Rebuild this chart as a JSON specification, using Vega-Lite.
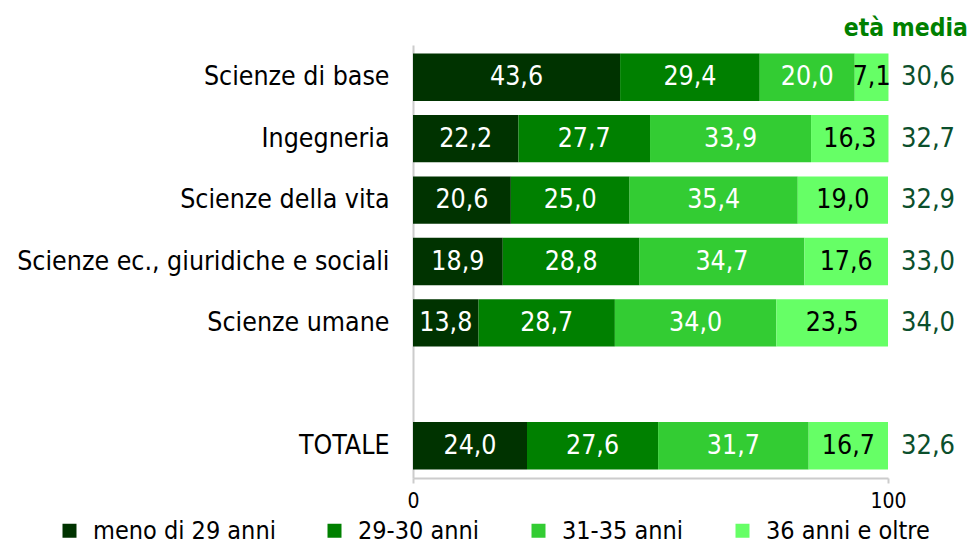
{
  "$schema": "https://vega.github.io/schema/vega-lite/v6.json",
  "width": 475,
  "height": 433,
  "autosize": {"type": "none"},
  "padding": {"left": 413, "top": 45, "right": 83, "bottom": 67},
  "background": "white",
  "config": {
    "locale": {"number": {"decimal": ",", "thousands": ".", "grouping": [3], "currency": ["", " €"]}},
    "view": {"stroke": null},
    "font": "DejaVu Sans Condensed",
    "axisY": {"domainColor": "#cccccc", "domainWidth": 2, "ticks": false, "labelPadding": 24, "labelFontSize": 26.5, "labelColor": "#000000", "labelFont": "DejaVu Sans Condensed", "grid": false, "labelLimit": 420},
    "axisX": {"domainColor": "#cccccc", "domainWidth": 2, "tickColor": "#cccccc", "tickWidth": 2, "tickSize": 5, "labelPadding": 7, "labelFontSize": 21, "labelColor": "#000000", "labelFont": "DejaVu Sans Condensed", "grid": false, "labelFlush": false, "labelOverlap": false},
    "legend": {"orient": "none", "direction": "horizontal", "legendX": -356, "legendY": 473, "symbolType": "square", "symbolSize": 196, "symbolStrokeWidth": 0, "labelFontSize": 25, "labelFont": "DejaVu Sans Condensed", "labelOffset": 11, "columnPadding": 46, "labelColor": "#000000", "labelLimit": 400}
  },
  "title": {"text": "età media", "anchor": "end", "frame": "group", "dx": 80, "fontSize": 24.5, "fontWeight": "bold", "color": "#008000", "font": "DejaVu Sans Condensed", "offset": 4},
  "datasets": {
    "quote": [
      {"cat": "Scienze di base", "g": "meno di 29 anni", "k": 1, "v": 43.6},
      {"cat": "Scienze di base", "g": "29-30 anni", "k": 2, "v": 29.4},
      {"cat": "Scienze di base", "g": "31-35 anni", "k": 3, "v": 20.0},
      {"cat": "Scienze di base", "g": "36 anni e oltre", "k": 4, "v": 7.1},
      {"cat": "Ingegneria", "g": "meno di 29 anni", "k": 1, "v": 22.2},
      {"cat": "Ingegneria", "g": "29-30 anni", "k": 2, "v": 27.7},
      {"cat": "Ingegneria", "g": "31-35 anni", "k": 3, "v": 33.9},
      {"cat": "Ingegneria", "g": "36 anni e oltre", "k": 4, "v": 16.3},
      {"cat": "Scienze della vita", "g": "meno di 29 anni", "k": 1, "v": 20.6},
      {"cat": "Scienze della vita", "g": "29-30 anni", "k": 2, "v": 25.0},
      {"cat": "Scienze della vita", "g": "31-35 anni", "k": 3, "v": 35.4},
      {"cat": "Scienze della vita", "g": "36 anni e oltre", "k": 4, "v": 19.0},
      {"cat": "Scienze ec., giuridiche e sociali", "g": "meno di 29 anni", "k": 1, "v": 18.9},
      {"cat": "Scienze ec., giuridiche e sociali", "g": "29-30 anni", "k": 2, "v": 28.8},
      {"cat": "Scienze ec., giuridiche e sociali", "g": "31-35 anni", "k": 3, "v": 34.7},
      {"cat": "Scienze ec., giuridiche e sociali", "g": "36 anni e oltre", "k": 4, "v": 17.6},
      {"cat": "Scienze umane", "g": "meno di 29 anni", "k": 1, "v": 13.8},
      {"cat": "Scienze umane", "g": "29-30 anni", "k": 2, "v": 28.7},
      {"cat": "Scienze umane", "g": "31-35 anni", "k": 3, "v": 34.0},
      {"cat": "Scienze umane", "g": "36 anni e oltre", "k": 4, "v": 23.5},
      {"cat": "TOTALE", "g": "meno di 29 anni", "k": 1, "v": 24.0},
      {"cat": "TOTALE", "g": "29-30 anni", "k": 2, "v": 27.6},
      {"cat": "TOTALE", "g": "31-35 anni", "k": 3, "v": 31.7},
      {"cat": "TOTALE", "g": "36 anni e oltre", "k": 4, "v": 16.7}
    ],
    "media": [
      {"cat": "Scienze di base", "media": 30.6},
      {"cat": "Ingegneria", "media": 32.7},
      {"cat": "Scienze della vita", "media": 32.9},
      {"cat": "Scienze ec., giuridiche e sociali", "media": 33.0},
      {"cat": "Scienze umane", "media": 34.0},
      {"cat": "TOTALE", "media": 32.6}
    ]
  },
  "layer": [
    {
      "data": {"name": "quote"},
      "transform": [
        {"stack": "v", "groupby": ["cat"], "sort": [{"field": "k", "order": "ascending"}], "as": ["x0", "x1"]},
        {"calculate": "(datum.x0 + datum.x1) / 2", "as": "xm"}
      ],
      "layer": [
        {
          "mark": {"type": "bar"},
          "encoding": {
            "y": {"field": "cat", "type": "nominal", "title": null, "scale": {"domain": ["Scienze di base", "Ingegneria", "Scienze della vita", "Scienze ec., giuridiche e sociali", "Scienze umane", " ", "TOTALE"], "paddingInner": 0.23, "paddingOuter": 0.14}, "axis": {"title": null}},
            "x": {"field": "x0", "type": "quantitative", "title": null, "scale": {"domain": [0, 100], "nice": false}, "axis": {"values": [0, 100], "format": "d", "title": null}},
            "x2": {"field": "x1"},
            "color": {"field": "g", "type": "nominal", "title": null, "scale": {"domain": ["meno di 29 anni", "29-30 anni", "31-35 anni", "36 anni e oltre"], "range": ["#003300", "#008000", "#33cc33", "#66ff66"]}}
          }
        },
        {
          "mark": {"type": "text", "fontSize": 26.5, "font": "DejaVu Sans Condensed", "align": "center", "baseline": "middle"},
          "encoding": {
            "y": {"field": "cat", "type": "nominal", "title": null, "axis": {"title": null}},
            "x": {"field": "xm", "type": "quantitative", "title": null, "axis": {"values": [0, 100], "format": "d", "title": null}},
            "text": {"field": "v", "type": "quantitative", "format": ".1f"},
            "color": {"condition": {"test": "datum.k == 4", "value": "#000000"}, "value": "#ffffff"}
          }
        }
      ]
    },
    {
      "data": {"name": "media"},
      "mark": {"type": "text", "fontSize": 27, "font": "DejaVu Sans Condensed", "align": "left", "baseline": "middle", "dx": 13, "color": "#0b4f2c"},
      "encoding": {
        "y": {"field": "cat", "type": "nominal", "title": null, "axis": {"title": null}},
        "x": {"datum": 100, "type": "quantitative", "title": null, "axis": {"values": [0, 100], "format": "d", "title": null}},
        "text": {"field": "media", "type": "quantitative", "format": ".1f"}
      }
    }
  ]
}
